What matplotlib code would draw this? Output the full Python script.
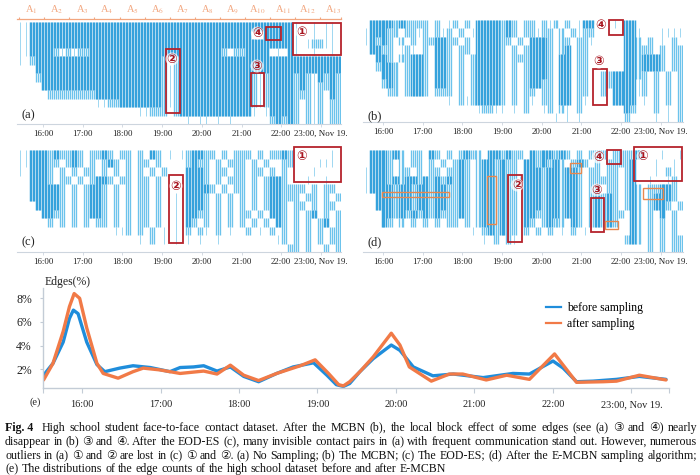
import math
import matplotlib
matplotlib.use("Agg")
import matplotlib.pyplot as plt
from matplotlib.lines import Line2D
from matplotlib.font_manager import FontProperties

plt.rcParams['font.family'] = ['Liberation Serif', 'DejaVu Sans']
plt.rcParams['mathtext.fontset'] = 'stix'

W, H = 700, 475

# ---------------- (e) edge distribution, % of edges ----------------
t_before = [15.51, 15.63, 15.76, 15.84, 15.89, 15.95, 16.06, 16.19, 16.29, 16.48, 16.65, 16.87,
            17.12, 17.25, 17.42, 17.55, 17.72, 17.89, 18.06, 18.25, 18.48, 18.69, 18.95, 19.12,
            19.24, 19.33, 19.41, 19.54, 19.71, 19.94, 20.05, 20.22, 20.47, 20.73, 21.11, 21.49,
            21.70, 22.00, 22.13, 22.30, 22.51, 22.81, 23.10, 23.44]
before = [1.5, 2.5, 4.3, 6.3, 7.0, 6.7, 4.3, 2.4, 1.8, 2.1, 2.3, 2.15,
          1.8, 2.15, 2.2, 2.3, 1.85, 2.2, 1.4, 0.95, 1.65, 2.2, 2.55, 1.5,
          0.7, 0.55, 0.8, 1.8, 2.9, 4.05, 3.6, 2.2, 1.45, 1.6, 1.3, 1.65,
          1.6, 2.7, 2.1, 0.95, 1.0, 1.15, 1.4, 1.15]
t_after = [15.51, 15.63, 15.76, 15.84, 15.90, 15.97, 16.06, 16.19, 16.27, 16.46, 16.65, 16.78,
           16.99, 17.25, 17.55, 17.72, 17.89, 18.06, 18.25, 18.48, 18.78, 18.97, 19.14, 19.27,
           19.33, 19.41, 19.54, 19.71, 19.94, 20.05, 20.17, 20.45, 20.68, 20.85, 21.15, 21.41,
           21.70, 22.02, 22.13, 22.30, 22.64, 22.81, 23.10, 23.44]
after = [1.1, 2.5, 5.2, 7.3, 8.4, 8.0, 5.5, 2.5, 1.65, 1.25, 1.8, 2.1,
         1.95, 1.65, 1.85, 1.6, 2.35, 1.5, 1.05, 1.65, 2.3, 2.8, 1.65, 0.7,
         0.6, 0.95, 1.8, 3.05, 5.05, 4.05, 2.2, 1.0, 1.6, 1.6, 1.1, 1.5,
         1.15, 3.3, 2.35, 0.9, 0.95, 1.0, 1.5, 1.1]

hours = [16, 17, 18, 19, 20, 21, 22, 23]
hour_labels = ['16:00', '17:00', '18:00', '19:00', '20:00', '21:00', '22:00', '23:00, Nov 19.']
y_ticks = [2, 4, 6, 8]
y_labels = ['2%', '4%', '6%', '8%']
legend_labels = ['before sampling', 'after sampling']

# ---------------- (a)-(d) contact timelines ----------------
# coarse occupancy of the timeline: 12 edge-rows x 54 time columns
# '#' dense contacts, '+' sparse contacts, '.' a few contacts
grid_a = [
    ".." + "#" * 44 + ".  . .. ",
    ".." + "#" * 37 + "  #####" + ".  . .. ",
    ".." + "#" * 44 + ". .++.. ",
    "..####" "+.+.+" "+#" + "#" * 21 + "+ ++" "####" " . " "#" ".  .  . ",
    ". +" + "#" * 21 + "+ +" + "#" * 27,
    "   " + "#" * 21 + "+.+" + "#" * 27,
    "   +" + "#" * 20 + "+.+" + "#" * 12 + "+.+" "####" "+#+.#+#+",
    "    " + "#" * 20 + "+.+" + "#" * 12 + "+.+" "####" "+#+.++#+",
    "     " "++++++++" + "#" * 11 + "+.+" + "#" * 12 + "+.+" "####" "+++.+ #+",
    " " * 13 + "..++" "#######" "+.+" + "#" * 12 + "+.+" "####" "+ +.+ ++",
    " " * 20 + "..++" "+ +" + "#" * 12 + ". ." "####" "+ +.+ ++",
    " " * 28 + ". .. . .  " "    " "+#+#" "+ +.+ ++",
]
grid_b = [
    " " "###" "#+#+" "++" "+ + .+ + " "####" "+#+ +" "+ +" ".+ + ." "##" "  " " . " "##" " " "       ",
    "." "###" "++ +" "+." "+ +.+ + ." "####" "+#+ +" "+.+" "+ + +." "++" "  " "   " "##" "." "   ....",
    "." "#+#" "+ + " "+ " "++##++ + " "####" "++ + " "###" "+ ++ +" "+." "  " "   " "##" "+" " + . + ",
    " " "##+" "+ .+" ". " "+ ##+ ++ " "####" "+ + +" "###" "+ +# +" "+ " "  " "   " "##" "+" "++ + ++",
    " " " ##" "+ ++" "##" "+ ##+ + +" "####" "+ +++" "###" "+ ## +" "+ " "  " "   " "##" "+" "###+ ++",
    " " " +#" "#+ +" "##" "+ ##+ + +" "####" "+ + +" "###" "+ ## +" "+ " "  " "   " "##" "+" "###+ ++",
    " " "  #" "#+ +" "##" "+ ##+ + +" "####" "+ + +" "###" "+ ## +" "+ " " +" "+##" "##" "+" "+ + + +",
    " " "  +" "#+ +" "##" "+ ##+ + +" "####" "+ + +" "##+" "+ ## +" "+ " " +" "+##" "##" "." "+ + + +",
    " " "   " "++ +" "##" "+ +++ + +" "####" "+ + +" "+ +" "+ ## +" "+ " " +" " ##" "##" "." "+ + + +",
    " " "   " "    " "  " "    . +.+" "####" "+ + +" ". +" "+ ## +" ". " "  " " ##" "##" " " ". + + +",
    " " "   " "    " "  " "         " ".++." ". . +" "  ." "+ +. +" "  " "  " "   " "#+" " " "  + . +",
    " " "   " "    " "  " "         " "    " "     " "   " " . . ." "  " "  " "   " "+ " " " "  . . +",
]
grid_c = [
    ".." "###" "+#++#+ ++#+ +" "+ + #+ " ". ." "+##++ + +" "++ + ++#+" "      . ",
    ".." "###" "++ +#+ + +#+ " "+ ++ + " "   " "+#++ + ++" "+ + +  ++" "    ... ",
    ". " "###" "+ + + ++ + + " "+ + + +" "   " "###+ ++ +" "+ ++ + + " "   .    ",
    "  " "###" "+ ++ + +##+ +" "+ ++ + " "   " "###+ + ++" "+ + +##+ " "  .  .  ",
    "  " "###" "##+ + +##+ + " "+ ++ + " "   " "####+ + +" "+ + +##++" "++ + ++ ",
    "  " "###" "##+ + +##+ + " "+ ++ + " " . " "###+ + + " "+ + +##++" "+ ++ + +",
    "  " " ##" "##+ + +##+ + " "+ ++ + " " . " "###+ + + " "+ + +##+ " "++ + ++ ",
    "  " "  #" "#++ + +##+ + " "+ ++ + " " . " "##++ + + " "++ + ##+ " "+ +# + +",
    "  " "   " "+ + + + ++ + " "+ ++ + " " . " "#+ + + + " "+ + + #+ " "+ + +# +",
    "  " "   " "           .." "+ + + ." " . " "+ +. + . " " + . + + " "+ + + ++",
    "  " "   " "             " "  . + ." " . " ". .  .   " "      .+ " "+ + + ++",
    "  " "   " "             " "       " "   " "         " "        +" "+ +  + +",
]
grid_d = [
    " " "###" "+#+ ++ #+ + " "+#++ ##+#+" "+ " "#+##+#" "+ + ++" "+ +" "+++" "#" "   .  . ",
    " " "###" "+ + ++ + + " "+#+ +##+#+" "+ " "##+#+#" "+ +#+ " "+ +" "+++" "#" "   .  . ",
    "." "###" "+ ++ + ++ +" "+#+ +##+#+" "+ " "###+##" "+##+ +" "+ +" "+ +" "#" "   . +. ",
    "." "###" "+#+##+#+#+#" "+#+ +##+#+" "+." "###+##" "+##+ +" "+++" "+ +" "#" "  .  .+ ",
    "." "###" "#+##+##+##+" "+#+ +##+#+" "+ " "###+##" "+##+ +" "+ +" "+ +" "#" "+ ++##+ ",
    " " " ##" "#+##+##+##+" "+#+ +##+#+" "+ " "###+##" "+##+ +" "#+#" "+ +" "#" "+ +###+ ",
    " " " ##" "#+##+##+##+" "+#+ +##+#+" "+ " "###+##" "+##+ +" "#+#" "+ +" "#" "+ +##+ +",
    " " "  #" "#+#+#+#+#++" "+#+ +##+#+" "+ " "##++##" "+##+ +" "#+#" "++ " "#" "+ + # + ",
    " " "  #" "+ + + + + +" "+ + +##+#+" "+ " "#+ +#+" "+ #+ +" "#+#" "+  " "#" "+ + + + ",
    " " "   " "           " "   . +#+#+" "+ " "+ + + " ". + . " "   " "   " "#" "+ + + + ",
    " " "   " "           " "     . + +" ". " "      " "      " "   " "  +" "#" "+ + + ++",
    " " "   " "           " "          " "  " "      " "      " "   " "   " " " "  + + ++",
]

# highlighted regions: (t_start, t_end, row_top, row_bottom) and circled labels (text, t, row)
boxes_a = [(22.30, 23.50, 1, 33), (21.62, 22.00, 5, 18), (19.10, 19.45, 27, 91), (21.24, 21.57, 51, 84)]
marks_a = [('①', 22.52, 10), ('④', 21.40, 11), ('②', 19.25, 37), ('③', 21.39, 44)]
boxes_b = [(21.69, 22.05, 0, 15), (21.29, 21.64, 49, 85)]
marks_b = [('④', 21.49, 6), ('③', 21.44, 42)]
boxes_c = [(22.32, 23.50, -3, 32), (19.17, 19.53, 25, 93)]
marks_c = [('①', 22.52, 6), ('②', 19.35, 36)]
boxes_d = [(22.32, 23.53, -3, 31), (21.64, 22.00, 0, 14), (19.15, 19.50, 25, 92), (21.24, 21.57, 48, 82)]
marks_d = [('①', 22.55, 6), ('④', 21.42, 7), ('②', 19.38, 35), ('③', 21.39, 40)]
orange_d = [(15.98, 17.66, 42, 47), (18.62, 18.85, 26, 74), (20.71, 20.99, 13, 23),
            (21.59, 21.92, 71, 79), (22.55, 23.05, 38, 49)]

# time windows A1..A13 above panel (a)
win_names = ['A$_{%d}$' % k for k in range(1, 14)]
win_start = 15.40
win_len = 0.632

caption_head = "Fig. 4"
caption = [
    "High school student face-to-face contact dataset. After the MCBN (b), the local block effect of some edges (see (a) ③ and ④) nearly",
    "disappear in (b) ③ and ④. After the EOD-ES (c), many invisible contact pairs in (a) with frequent communication stand out. However, numerous",
    "outliers in (a) ① and ② are lost in (c) ① and ②. (a) No Sampling; (b) The MCBN; (c) The EOD-ES; (d) After the E-MCBN sampling algorithm;",
    "(e) The distributions of the edge counts of the high school dataset before and after E-MCBN",
]

fig = plt.figure(figsize=(W / 100, H / 100), dpi=100)


def add_px(x0, y0, x1, y1):
    return fig.add_axes([x0 / W, 1 - y1 / H, (x1 - x0) / W, (y1 - y0) / H])


STYLE = [('.', (0.5,), 0.7, '#9fd7f1'),
         ('+', (0.15, 0.5, 0.82), 0.95, '#6cc3ec'),
         ('#', (0.125, 0.375, 0.625, 0.875), 1.05, '#35a2dc')]
NROW_H = 102.0


def draw_panel(ax, grid, xl, boxes, marks, label, label_row):
    ncol = 54
    rows = [g.ljust(ncol)[:ncol] for g in grid]
    nrow = len(rows)
    cw = (xl[1] - xl[0]) / ncol
    rh = NROW_H / nrow
    for ch, offs, lw, col in STYLE:
        xs, y0s, y1s = [], [], []
        for c in range(ncol):
            r = 0
            while r < nrow:
                r2 = r + 1
                while r2 < nrow and rows[r2][c] == rows[r][c]:
                    r2 += 1
                if rows[r][c] == ch:
                    for f in offs:
                        xs.append(xl[0] + (c + f) * cw)
                        y0s.append(r * rh)
                        y1s.append(r2 * rh)
                r = r2
        ax.vlines(xs, y0s, y1s, colors=col, linewidth=lw, zorder=1)

    for t0, t1, r0, r1 in boxes:
        ax.add_patch(plt.Rectangle((t0, r0), t1 - t0, r1 - r0, fill=False, ec='#b5232c',
                                   lw=1.3, zorder=4, clip_on=False))
    for s, t, r in marks:
        ax.text(t, r, s, color='#a8151f', fontsize=9, fontweight='bold', ha='center', va='center',
                family=['DejaVu Sans'], zorder=5,
                bbox=dict(boxstyle='circle,pad=0.0', fc='white', ec='none', alpha=0.7))

    ax.text(xl[0] + 0.12, label_row, label, fontsize=9, ha='left', va='center', color='#222222')
    ax.set_xlim(xl)
    ax.set_ylim(NROW_H, 0)
    for s in ['top', 'left', 'right']:
        ax.spines[s].set_visible(False)
    ax.spines['bottom'].set_color('#cdd5de')
    ax.spines['bottom'].set_linewidth(0.8)
    ax.set_yticks([])
    ax.set_xticks(hours)
    ax.set_xticklabels(hour_labels)
    ax.tick_params(axis='x', length=2, width=0.6, color='#cdd5de', pad=2.5, labelsize=6.4,
                   labelcolor='#222222')
    ax.set_facecolor('none')


xl_left = (15.345, 23.506)
xl_right = (15.496, 23.557)

ax_a = add_px(17, 22, 341, 124)
draw_panel(ax_a, grid_a, xl_left, boxes_a, marks_a, '(a)', 93)
ax_b = add_px(363, 20, 683, 122)
draw_panel(ax_b, grid_b, xl_right, boxes_b, marks_b, '(b)', 96)
ax_c = add_px(17, 150, 341, 252)
draw_panel(ax_c, grid_c, xl_left, boxes_c, marks_c, '(c)', 92)
ax_d = add_px(363, 150, 683, 252)
draw_panel(ax_d, grid_d, xl_right, boxes_d, marks_d, '(d)', 92)
for t0, t1, r0, r1 in orange_d:
    ax_d.add_patch(plt.Rectangle((t0, r0), t1 - t0, r1 - r0, fill=False, ec='#e8874d',
                                 lw=1.0, zorder=4))

# window bracket above (a)
wcol = '#f2a67f'
edges = [win_start + k * win_len for k in range(14)]
ax_a.plot([xl_left[0], xl_left[1]], [-3, -3], color=wcol, lw=0.9, clip_on=False)
ax_a.vlines([e for e in edges if e <= xl_left[1]] + [xl_left[1]], -5.5, -3, color=wcol, lw=0.8,
            clip_on=False)
for k, name in enumerate(win_names):
    ax_a.text(win_start + (k + 0.5) * win_len, -12, name, color=wcol, fontsize=7.5,
              ha='center', va='center', clip_on=False)

# ---------------- (e) line chart ----------------
ax_e = add_px(43, 288, 669, 388)
ax_e.plot(t_before, before, color='#1f8ddb', lw=2.4, solid_joinstyle='round', solid_capstyle='round')
ax_e.plot(t_after, after, color='#f17a47', lw=2.4, solid_joinstyle='round', solid_capstyle='round')
ax_e.set_xlim(15.503, 23.478)
ax_e.set_ylim(0.42, 8.87)
ax_e.set_xticks(hours)
ax_e.set_xticklabels(hour_labels)
ax_e.set_xticks([15.503, 23.478], minor=True)
ax_e.set_yticks(y_ticks)
ax_e.set_yticklabels(y_labels)
for s in ['top', 'right']:
    ax_e.spines[s].set_visible(False)
for s in ['left', 'bottom']:
    ax_e.spines[s].set_color('#c3ccd6')
    ax_e.spines[s].set_linewidth(1.0)
ax_e.tick_params(axis='x', which='both', length=3.5, width=0.8, color='#c3ccd6', pad=5,
                 labelsize=7.4, labelcolor='#222222')
ax_e.tick_params(axis='y', length=2, width=0.8, color='#c3ccd6', pad=6, labelsize=8.5,
                 labelcolor='#222222')
ax_e.set_facecolor('none')
handles = [Line2D([], [], color='#1f8ddb', lw=1.6), Line2D([], [], color='#f17a47', lw=1.6)]
ax_e.legend(handles, legend_labels, loc='upper left', bbox_to_anchor=(546 / W, 1 - 302 / H),
            bbox_transform=fig.transFigure, frameon=False, fontsize=8.5, handlelength=1.3,
            handletextpad=0.45, labelspacing=0.35, borderpad=0, borderaxespad=0)
fig.text(45 / W, 1 - 282 / H, 'Edges(%)', fontsize=8.5, ha='left', va='center', color='#222222')
fig.text(35 / W, 1 - 402 / H, '(e)', fontsize=7.5, ha='center', va='center', color='#222222')

# ---------------- caption (justified, word by word) ----------------
renderer = fig.canvas.get_renderer()


def measure(s, size, weight='normal'):
    prop = FontProperties(family=['Liberation Serif', 'DejaVu Sans'], size=size, weight=weight)
    return renderer.get_text_width_height_descent(s, prop, ismath=False)


fs = 10 * 236 / measure("(e) The distributions of the edge counts of the hig", 10)[0]
line_y = [431, 445, 459, 472]
x_left, x_right = 5, 697
space_w = measure('a a', fs)[0] - measure('aa', fs)[0]
for i, line in enumerate(caption):
    tokens = [(w, 'normal') for w in line.split(' ')]
    if i == 0:
        tokens = [(caption_head, 'bold')] + tokens
    sizes = [measure(w, fs, wt) for w, wt in tokens]
    extra = 4 if i == 0 else 0
    if i < 3:
        gap = (x_right - x_left - sum(s[0] for s in sizes) - extra) / (len(tokens) - 1)
    else:
        gap = space_w
    x = x_left
    for k, ((w, wt), (wd, ht, d)) in enumerate(zip(tokens, sizes)):
        # Agg snaps each word's bitmap to whole pixels; shift so all words share one baseline
        asc = ht - d
        shift = math.floor(d + asc - math.floor(asc)) - d
        yb = line_y[i] + shift
        fig.text(x / W, 1 - yb / H, w, fontsize=fs, fontweight=wt, ha='left',
                 va='baseline', color='#111111')
        x += wd + gap + (extra if k == 0 else 0)

fig.savefig('out.png', dpi=100)
